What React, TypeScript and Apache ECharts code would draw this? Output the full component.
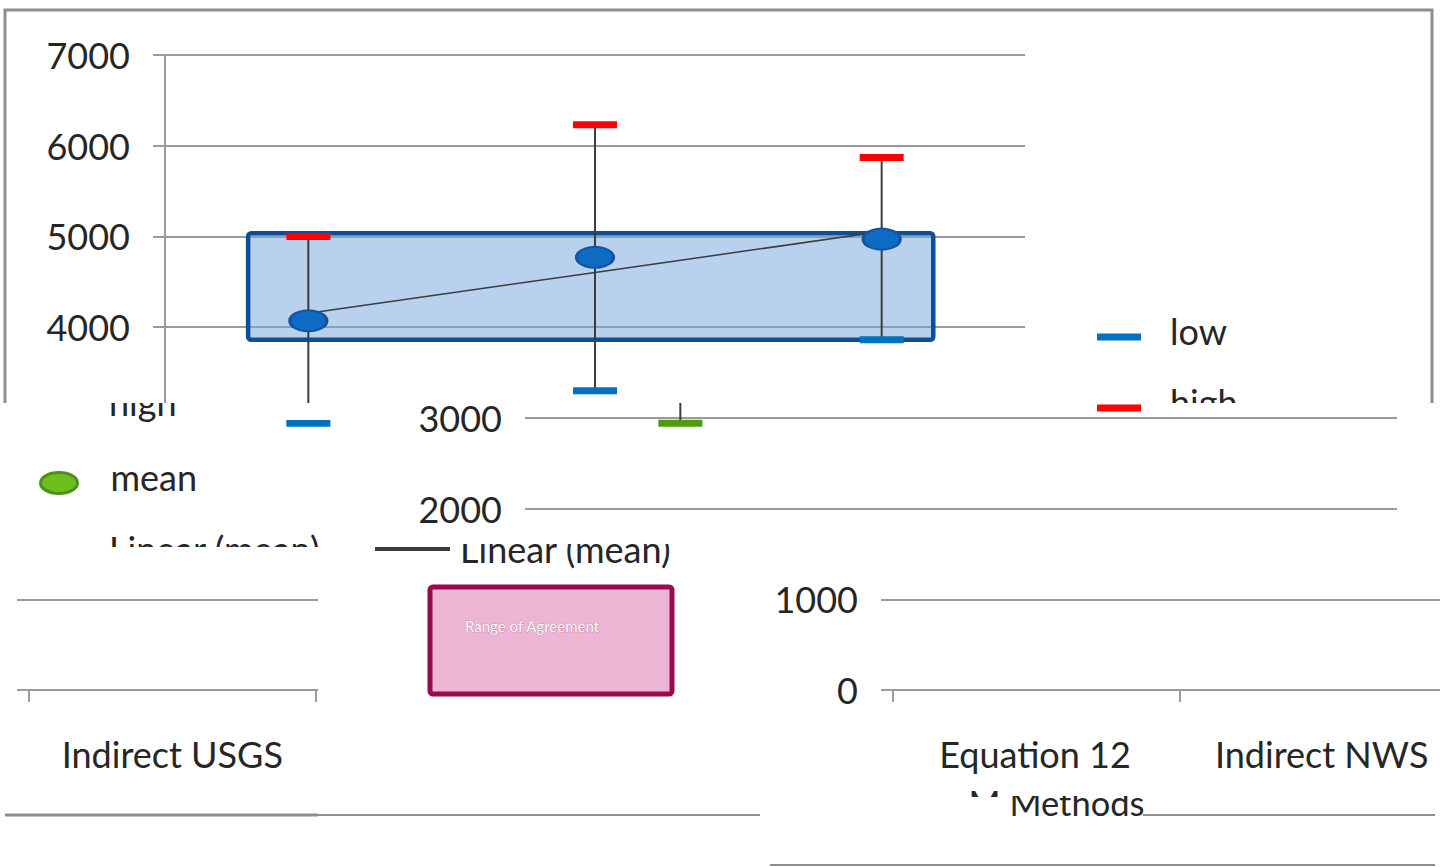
import React, { useEffect, useRef } from "react";
import * as echarts from "echarts";

// ---------- data ----------
const categories = ["Indirect USGS", "Equation 12", "Indirect NWS"];
const lowValues = [2940, 3300, 3860];
const highValues = [5000, 6230, 5870];
const meanValues = [4070, 4770, 4970];
const agreementLow = 3860;
const agreementHigh = 5035;
const agreementSpan = [0.29, 2.68]; // on a 0..3 category-band scale
const yMin = 0;
const yMax = 7000;
const yStep = 1000;
const axisTitle = "Methods";
const agreementLabel = "Range of Agreement";

// least-squares trend through the means (Excel "Linear (mean)")
function linearFit(ys: number[]): number[] {
  const n = ys.length;
  const xs = ys.map((_, i) => i);
  const mx = xs.reduce((a, b) => a + b, 0) / n;
  const my = ys.reduce((a, b) => a + b, 0) / n;
  let num = 0;
  let den = 0;
  for (let i = 0; i < n; i++) {
    num += (xs[i] - mx) * (ys[i] - my);
    den += (xs[i] - mx) * (xs[i] - mx);
  }
  const slope = num / den;
  return xs.map((x) => my + slope * (x - mx));
}
const trendValues = linearFit(meanValues);

// ---------- styling ----------
const FONT = 'Lato, "Open Sans", "DejaVu Sans", sans-serif';
const TEXT = "#262626";
const GRID_C = "#9a9a9a";
const FS = 36;
const W = 1440;
const H = 867;

type Parts = {
  border?: boolean;
  yLabels?: number[];
  yAxisLine?: boolean;
  yTicks?: boolean;
  split?: boolean;
  xAxisLine?: boolean;
  xLabels?: string[];
  xName?: boolean;
  legends?: string[];
  lowColor?: string;
  graphic?: any[];
  noChart?: boolean;
};

// legend keys drawn a little below the centre of their text
const DASH_ICON = "path://M0,0M0,12L44,12L44,19L0,19Z";
const ELLIPSE_ICON = "path://M0,0M0,22.5A18.5,10.5,0,1,1,37,22.5A18.5,10.5,0,1,1,0,22.5Z";

const LEGEND_LAYOUT: Record<string, any> = {
  low: { name: "low", left: 1092, cy: 331, w: 44, h: 19, icon: DASH_ICON, pad: 24 },
  high: { name: "high", left: 1092, cy: 402, w: 44, h: 19, icon: DASH_ICON, pad: 24 },
  mean: {
    name: "mean",
    left: 1095,
    cy: 477,
    w: 37,
    h: 33,
    icon: ELLIPSE_ICON,
    pad: 28,
    itemStyle: { color: "#6CBF1F", borderColor: "#4E9118", borderWidth: 3, opacity: 1 },
  },
  trend: {
    name: "Linear (mean)",
    left: 1080,
    cy: 549,
    w: 75,
    h: 4,
    icon: "rect",
    pad: 5,
    itemStyle: { color: "#3c3c3c", opacity: 1 },
  },
};

function legendFor(key: string) {
  const d = LEGEND_LAYOUT[key];
  const item: any = { name: d.name, icon: d.icon };
  if (d.itemStyle) item.itemStyle = d.itemStyle;
  return {
    show: true,
    selectedMode: false,
    orient: "vertical",
    padding: 5,
    left: d.left,
    top: d.cy - 25,
    itemWidth: d.w,
    itemHeight: d.h,
    itemGap: 0,
    symbolKeepAspect: false,
    data: [item],
    textStyle: {
      fontFamily: FONT,
      fontSize: FS,
      color: TEXT,
      lineHeight: 40,
      padding: [0, 0, 0, d.pad],
    },
  };
}

function buildOption(p: Parts) {
  if (p.noChart) {
    return { animation: false, graphic: p.graphic || [] };
  }
  const yl = p.yLabels || [];
  const xl = p.xLabels || [];
  const graphic: any[] = [];
  if (p.border) {
    graphic.push({
      type: "rect",
      silent: true,
      z: 0,
      shape: { x: 5, y: 10, width: 1427, height: 805 },
      style: { fill: "none", stroke: "#8e8e8e", lineWidth: 3 },
    });
  }
  return {
    animation: false,
    backgroundColor: "transparent",
    grid: { left: 165, top: 55, width: 860, height: 635, containLabel: false },
    graphic,
    legend: (p.legends || []).map(legendFor),
    xAxis: [
      {
        type: "category",
        data: categories,
        boundaryGap: true,
        axisLine: { show: !!p.xAxisLine, lineStyle: { color: GRID_C, width: 2 } },
        axisTick: { show: !!p.xAxisLine, length: 12, lineStyle: { color: GRID_C, width: 2 } },
        axisLabel: {
          show: xl.length > 0,
          fontFamily: FONT,
          fontSize: FS,
          color: TEXT,
          lineHeight: 40,
          margin: 44,
          interval: 0,
          formatter: (v: string) => (xl.indexOf(v) >= 0 ? v : ""),
        },
        splitLine: { show: false },
        name: p.xName ? axisTitle : undefined,
        nameLocation: "middle",
        nameGap: 92,
        nameTextStyle: { fontFamily: FONT, fontSize: 34.5, color: TEXT, lineHeight: 40 },
      },
      { type: "value", min: 0, max: 3, show: false },
    ],
    yAxis: {
      type: "value",
      min: yMin,
      max: yMax,
      interval: yStep,
      axisLine: { show: !!p.yAxisLine, lineStyle: { color: GRID_C, width: 2 } },
      axisTick: { show: !!p.yTicks, length: 12, lineStyle: { color: GRID_C, width: 2 } },
      axisLabel: {
        show: yl.length > 0,
        margin: 35,
        fontFamily: FONT,
        fontSize: FS,
        color: TEXT,
        formatter: (v: number) => (yl.indexOf(v) >= 0 ? String(v) : ""),
      },
      splitLine: { show: !!p.split, lineStyle: { color: GRID_C, width: 2 } },
    },
    series: [
      {
        type: "custom",
        name: "agreement",
        xAxisIndex: 1,
        yAxisIndex: 0,
        z: 1,
        silent: true,
        data: [[agreementSpan[0], agreementLow, agreementSpan[1], agreementHigh]],
        encode: { x: [0, 2], y: [1, 3] },
        renderItem: (_params: any, api: any) => {
          const a = api.coord([api.value(0), api.value(1)]);
          const b = api.coord([api.value(2), api.value(3)]);
          return {
            type: "rect",
            shape: { x: a[0], y: b[1], width: b[0] - a[0], height: a[1] - b[1], r: 3 },
            style: { fill: "rgba(118,168,222,0.52)", stroke: "#0D4F97", lineWidth: 4.5 },
          };
        },
      },
      {
        type: "custom",
        name: "errorbars",
        xAxisIndex: 0,
        yAxisIndex: 0,
        z: 2,
        silent: true,
        data: categories.map((_, i) => [i, lowValues[i], highValues[i]]),
        encode: { x: 0, y: [1, 2] },
        renderItem: (_params: any, api: any) => {
          const a = api.coord([api.value(0), api.value(1)]);
          const b = api.coord([api.value(0), api.value(2)]);
          return {
            type: "line",
            shape: { x1: a[0], y1: a[1], x2: b[0], y2: b[1] },
            style: { stroke: "#3c3c3c", lineWidth: 2 },
          };
        },
      },
      {
        type: "line",
        name: "Linear (mean)",
        z: 3,
        data: trendValues,
        symbol: "none",
        lineStyle: { color: "#3c3c3c", width: 1.5 },
        itemStyle: { color: "#3c3c3c" },
      },
      {
        type: "scatter",
        name: "low",
        z: 4,
        data: lowValues,
        symbol: "rect",
        symbolSize: [44, 7],
        itemStyle: { color: p.lowColor || "#0070C0", opacity: 1 },
      },
      {
        type: "scatter",
        name: "high",
        z: 4,
        data: highValues,
        symbol: "rect",
        symbolSize: [44, 7],
        itemStyle: { color: "#FF0000", opacity: 1 },
      },
      {
        type: "scatter",
        name: "mean",
        z: 5,
        data: meanValues,
        symbol: "circle",
        symbolSize: [37, 21],
        itemStyle: { color: "#0E6BC4", borderColor: "#15539E", borderWidth: 2.5, opacity: 1 },
      },
    ],
  };
}

type Frag = { key: string; dx: number; poly: number[][] | null; parts: Parts };

const rect = (x0: number, y0: number, x1: number, y1: number) => [
  [x0, y0],
  [x1, y0],
  [x1, y1],
  [x0, y1],
];

const FRAGMENTS: Frag[] = [
  {
    key: "top",
    dx: 0,
    poly: [
      [0, 0],
      [1440, 0],
      [1440, 403],
      [1150, 403],
      [1150, 415],
      [1090, 415],
      [1090, 403],
      [345, 403],
      [345, 420],
      [345, 440],
      [270, 440],
      [270, 420],
      [345, 420],
      [345, 403],
      [0, 403],
    ],
    parts: {
      border: true,
      yLabels: [4000, 5000, 6000, 7000],
      yAxisLine: true,
      yTicks: true,
      split: true,
      legends: ["low", "high"],
    },
  },
  {
    key: "middle",
    dx: 372,
    poly: rect(405, 403, 1440, 541),
    parts: { yLabels: [2000, 3000], yTicks: true, split: true, lowColor: "#4E9A0C" },
  },
  {
    key: "legendLeft",
    dx: -1061,
    poly: [
      [100, 403],
      [360, 403],
      [360, 547],
      [0, 547],
      [0, 414],
      [100, 414],
    ],
    parts: { legends: ["high", "mean", "trend"] },
  },
  {
    key: "legendMid",
    dx: -710,
    poly: rect(360, 544, 700, 580),
    parts: { legends: ["trend"] },
  },
  {
    key: "lowerLeft",
    dx: -136,
    poly: rect(5, 547, 318, 820),
    parts: { split: true, yTicks: true, xAxisLine: true, xLabels: ["Indirect USGS"], border: true },
  },
  {
    key: "lowerRight",
    dx: 728,
    poly: rect(760, 544, 1440, 720),
    parts: { yLabels: [0, 1000], yTicks: true, split: true, xAxisLine: true },
  },
  {
    key: "labelsRight",
    dx: 440,
    poly: rect(870, 720, 1440, 788),
    parts: { xLabels: ["Equation 12", "Indirect NWS"] },
  },
  {
    key: "titleA",
    dx: 482,
    poly: rect(1005, 796, 1160, 830),
    parts: { xName: true },
  },
  {
    key: "titleB",
    dx: 441,
    poly: rect(960, 786, 1005, 797),
    parts: { xName: true },
  },
  {
    key: "static",
    dx: 0,
    poly: null,
    parts: {
      noChart: true,
      graphic: [
        {
          type: "rect",
          silent: true,
          shape: { x: 430, y: 587, width: 242, height: 107, r: 3 },
          style: { fill: "#ECB5D3", stroke: "#970B50", lineWidth: 5 },
        },
        {
          type: "text",
          silent: true,
          x: 465,
          y: 626,
          style: {
            text: agreementLabel,
            fontFamily: FONT,
            fontSize: 15,
            fill: "#ffffff",
            stroke: "rgba(110,20,70,0.55)",
            lineWidth: 0.6,
            verticalAlign: "middle",
            align: "left",
          },
        },
        {
          type: "line",
          silent: true,
          shape: { x1: 318, y1: 815, x2: 760, y2: 815 },
          style: { stroke: "#8e8e8e", lineWidth: 2 },
        },
        {
          type: "line",
          silent: true,
          shape: { x1: 1143, y1: 815, x2: 1435, y2: 815 },
          style: { stroke: "#8e8e8e", lineWidth: 2 },
        },
        {
          type: "line",
          silent: true,
          shape: { x1: 770, y1: 865, x2: 1435, y2: 865 },
          style: { stroke: "#8e8e8e", lineWidth: 2 },
        },
      ],
    },
  },
];

function Piece({ frag }: { frag: Frag }) {
  const ref = useRef<HTMLDivElement>(null);
  useEffect(() => {
    if (!ref.current) return;
    const chart = echarts.init(ref.current, null, { renderer: "svg" });
    chart.setOption(buildOption(frag.parts) as any);
    return () => chart.dispose();
  }, [frag]);
  const clip = frag.poly
    ? `polygon(${frag.poly.map(([x, y]) => `${x - frag.dx}px ${y}px`).join(", ")})`
    : undefined;
  return (
    <div
      ref={ref}
      style={{
        position: "absolute",
        left: frag.dx,
        top: 0,
        width: W,
        height: H,
        clipPath: clip,
      }}
    />
  );
}

export default function App() {
  return (
    <div
      style={{
        position: "fixed",
        left: 0,
        top: 0,
        width: W,
        height: H,
        background: "#ffffff",
        overflow: "hidden",
      }}
    >
      {FRAGMENTS.map((f) => (
        <Piece key={f.key} frag={f} />
      ))}
    </div>
  );
}
